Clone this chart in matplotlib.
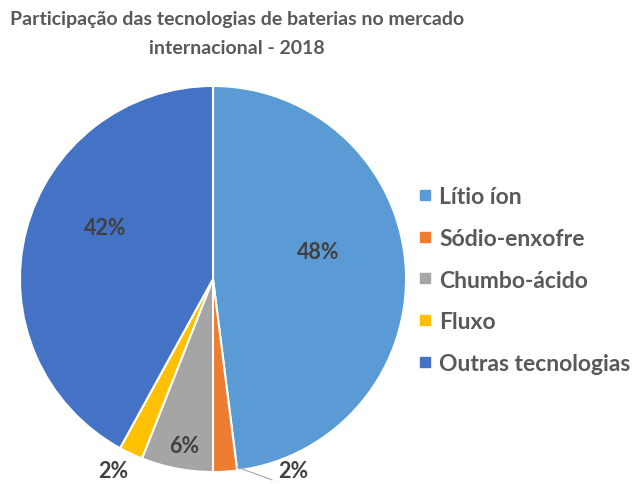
import matplotlib
matplotlib.use("Agg")
import matplotlib.pyplot as plt
from matplotlib.lines import Line2D

# ── data ─────────────────────────────────────────────────────────────────────
TITLE = "Participação das tecnologias de baterias no mercado\ninternacional - 2018"
categories = ["Lítio íon", "Sódio-enxofre", "Chumbo-ácido", "Fluxo", "Outras tecnologias"]
shares = [48, 2, 6, 2, 42]
colors = ["#5B9BD5", "#ED7D31", "#A5A5A5", "#FFC000", "#4472C4"]
# label position (in pie-radius units) for each slice
label_pos = [(0.545, 0.14), (0.415, -0.99), (-0.15, -0.865), (-0.515, -0.99), (-0.56, 0.265)]

TEXT = "#595959"
FONT = "Lato"

fig = plt.figure(figsize=(6.36, 4.85), dpi=100)
ax = fig.add_axes([0.0314, 0.0247, 0.607, 0.796])

wedges, _ = ax.pie(shares, colors=colors, startangle=90, counterclock=False,
                   radius=1.0, wedgeprops=dict(edgecolor="white", linewidth=1.5))
ax.set_xlim(-1, 1)
ax.set_ylim(-1, 1)
ax.set_aspect("equal")
ax.axis("off")

for val, (x, y) in zip(shares, label_pos):
    ax.text(x, y, f"{val}%", ha="center", va="center", fontsize=15.5,
            fontweight="bold", color="#404040", family=FONT, clip_on=False)

# leader line for the small Sódio-enxofre slice
ax.plot([0.124, 0.306], [-0.974, -1.041], color="#A6A6A6", lw=0.8, clip_on=False)

fig.text(0.373, 0.978, TITLE, ha="center", va="top", fontsize=14,
         fontweight="bold", color=TEXT, family=FONT, linespacing=1.9)

handles = [Line2D([], [], marker="s", linestyle="", markersize=7.2,
                  markerfacecolor=c, markeredgecolor=c) for c in colors]
leg = fig.legend(handles, categories, loc="center left",
                 bbox_to_anchor=(0.642, 0.4206), frameon=False, borderpad=0,
                 handlelength=0.5, handletextpad=0.35, labelspacing=0.9,
                 prop=dict(family=FONT, weight="bold", size=16.5))
for t in leg.get_texts():
    t.set_color(TEXT)

fig.savefig("out.png", dpi=100)
